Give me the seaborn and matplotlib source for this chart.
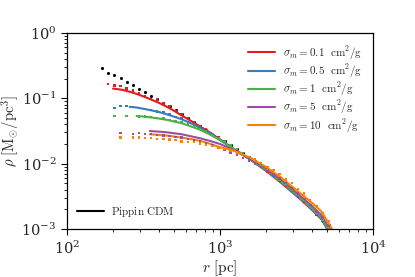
import numpy as np
import pandas as pd
import seaborn as sns
import matplotlib
matplotlib.use("Agg")
import matplotlib.pyplot as plt
from matplotlib.lines import Line2D

nan = np.nan

# radii (pc) of the simulation profile points
r_dots = [170, 186, 204, 224, 245, 269, 295, 324, 355, 389,
          427, 468, 513, 562, 617, 676, 741, 813, 891, 977,
          1072, 1175, 1288, 1413, 1549, 1698, 1862, 2042, 2239, 2455,
          2692, 2951, 3236, 3548, 3890, 4266, 4677, 5129, 5623]

cdm_dots = [0.288, 0.245, 0.224, 0.204, 0.178, 0.162, 0.141, 0.123, 0.110, 0.0977,
            0.0861, 0.0759, 0.0661, 0.0575, 0.0501, 0.0437, 0.0380, 0.0331, 0.0288, 0.0251,
            0.0219, 0.0191, 0.0166, 0.0145, 0.0126, 0.0110, 0.00933, 0.00794, 0.00692, 0.00589,
            0.00501, 0.00417, 0.00347, 0.00288, 0.00234, 0.00191, 0.00151, 0.00115, 0.000832]
s01_dots = [nan, 0.166, 0.158, 0.155, 0.141, 0.132, 0.120, 0.107, 0.0977, 0.0955,
            0.0851, 0.0759, 0.0646, 0.0575, 0.0501, 0.0427, 0.0380, 0.0331, 0.0282, 0.0251,
            0.0214, 0.0186, 0.0162, 0.0141, 0.0120, 0.0105, 0.00891, 0.00759, 0.00646, 0.00550,
            0.00457, 0.00380, 0.00316, 0.00263, 0.00209, 0.00166, 0.00132, 0.000977, nan]
s05_dots = [nan, nan, 0.0708, 0.0759, 0.0759, 0.0741, 0.0708, 0.0692, 0.0661, 0.0631,
            0.0603, 0.0562, 0.0513, 0.0490, 0.0437, 0.0407, 0.0363, 0.0316, 0.0282, 0.0245,
            0.0219, 0.0186, 0.0166, 0.0141, 0.0123, 0.0107, 0.00912, 0.00776, 0.00661, 0.00562,
            0.00468, 0.00389, 0.00324, 0.00269, 0.00214, 0.00170, 0.00135, 0.00100, nan]
s1_dots = [nan, nan, 0.0537, nan, 0.0537, nan, 0.0525, 0.0525, 0.0513, 0.0501,
           0.0490, 0.0468, 0.0447, 0.0427, 0.0398, 0.0372, 0.0339, 0.0309, 0.0275, 0.0245,
           0.0214, 0.0191, 0.0166, 0.0145, 0.0126, 0.0110, 0.00933, 0.00794, 0.00676, 0.00575,
           0.00479, 0.00398, 0.00331, 0.00275, 0.00219, 0.00174, 0.00138, 0.00105, nan]
s5_dots = [nan, nan, nan, 0.0295, nan, 0.0285, 0.0295, 0.0282, 0.0282, 0.0275,
           0.0269, 0.0263, 0.0257, 0.0251, 0.0240, 0.0229, 0.0219, 0.0204, 0.0191, 0.0178,
           0.0162, 0.0148, 0.0135, 0.0123, 0.0112, 0.0100, 0.00891, 0.00776, 0.00676, 0.00589,
           0.00501, 0.00417, 0.00347, 0.00288, 0.00234, 0.00186, 0.00148, 0.00112, nan]
s10_dots = [nan, nan, nan, 0.0251, nan, 0.0251, 0.0251, 0.0245, 0.0245, 0.0240,
            0.0237, 0.0234, 0.0229, 0.0219, 0.0216, 0.0214, 0.0204, 0.0195, 0.0186, 0.0178,
            0.0166, 0.0155, 0.0145, 0.0135, 0.0126, 0.0115, 0.0102, 0.00891, 0.00794, 0.00692,
            0.00575, 0.00501, 0.00407, 0.00347, 0.00275, 0.00224, 0.00174, 0.00132, 0.000933]

# radii (pc) of the fitted profiles
r_line = [200, 230, 257, 285, 316, 348, 400, 450, 500, 560, 630, 740, 870,
          1000, 1120, 1260, 1410, 1580, 2000, 2500, 3300, 4000, 4600, 5000, 5600]

s01_line = [0.141, 0.135, 0.126, 0.117, 0.107, 0.0977, 0.0851, 0.0741, 0.0646, 0.0550,
            0.0468, 0.0372, 0.0295, 0.0234, 0.0195, 0.0162, 0.0138, 0.0115, 0.00776, 0.00513,
            0.00295, 0.00195, 0.00141, 0.00102, 0.000724]
s05_line = [nan, nan, 0.0741, 0.0724, 0.0692, 0.0661, 0.0617, 0.0569, 0.0525, 0.0479,
            0.0427, 0.0355, 0.0288, 0.0234, 0.0195, 0.0162, 0.0138, 0.0116, 0.00794, 0.00525,
            0.00302, 0.00200, 0.00145, 0.00105, 0.000741]
s1_line = [nan, nan, nan, 0.0537, 0.0525, 0.0513, 0.0490, 0.0468, 0.0442, 0.0417,
           0.0380, 0.0331, 0.0275, 0.0229, 0.0193, 0.0162, 0.0138, 0.0117, 0.00813, 0.00537,
           0.00309, 0.00204, 0.00148, 0.00107, 0.000759]
s5_line = [nan, nan, nan, nan, nan, 0.0316, 0.0309, 0.0302, 0.0292, 0.0282,
           0.0266, 0.0245, 0.0221, 0.0200, 0.0178, 0.0155, 0.0135, 0.0117, 0.00851, 0.00575,
           0.00331, 0.00224, 0.00162, 0.00117, 0.000794]
s10_line = [nan, nan, nan, nan, nan, 0.0282, 0.0275, 0.0269, 0.0260, 0.0251,
            0.0240, 0.0224, 0.0200, 0.0178, 0.0168, 0.0155, 0.0138, 0.0123, 0.00891, 0.00617,
            0.00363, 0.00251, 0.00186, 0.00135, 0.000871]

labels = [r"$\sigma_m = 0.1\ \ \mathrm{cm}^2/\mathrm{g}$",
          r"$\sigma_m = 0.5\ \ \mathrm{cm}^2/\mathrm{g}$",
          r"$\sigma_m = 1\ \ \mathrm{cm}^2/\mathrm{g}$",
          r"$\sigma_m = 5\ \ \mathrm{cm}^2/\mathrm{g}$",
          r"$\sigma_m = 10\ \ \mathrm{cm}^2/\mathrm{g}$"]
colors = ["#e41a1c", "#377eb8", "#4daf4a", "#984ea3", "#ff7f00"]

sns.set_style("ticks")
plt.rcParams["mathtext.fontset"] = "cm"
plt.rcParams["font.family"] = ["DejaVu Serif"]
plt.rcParams["axes.formatter.use_mathtext"] = True

dots = pd.DataFrame({
    "r": r_dots * 5,
    "rho": s01_dots + s05_dots + s1_dots + s5_dots + s10_dots,
    "model": np.repeat(labels, len(r_dots)),
}).dropna()
lines = pd.DataFrame({
    "r": r_line * 5,
    "rho": s01_line + s05_line + s1_line + s5_line + s10_line,
    "model": np.repeat(labels, len(r_line)),
}).dropna()
cdm = pd.DataFrame({"r": r_dots, "rho": cdm_dots})

fig = plt.figure(figsize=(4.15, 2.77), dpi=100)
ax = fig.add_axes([0.1614, 0.1733, 0.7373, 0.7076])
ax.set_xscale("log")
ax.set_yscale("log")

pal = dict(zip(labels, colors))
sns.scatterplot(data=cdm, x="r", y="rho", color="black", marker="o", s=5,
                linewidth=0, ax=ax, zorder=1)
sns.lineplot(data=lines, x="r", y="rho", hue="model", palette=pal, lw=1.5,
             errorbar=None, legend=False, ax=ax, zorder=2)
sns.scatterplot(data=dots, x="r", y="rho", hue="model", palette=pal, marker="s",
                s=3, linewidth=0, legend=False, ax=ax, zorder=3)

ax.set_xlim(100, 1e4)
ax.set_ylim(1e-3, 1)
ax.set_xlabel(r"$r\ [\mathrm{pc}]$", fontsize=11, labelpad=1)
ax.set_ylabel(r"$\rho\ [\mathrm{M}_{\odot}/\mathrm{pc}^3]$", fontsize=10.5, labelpad=0)
ax.tick_params(which="major", labelsize=10.5, length=4, width=0.8, color="black")
ax.tick_params(which="minor", length=2.5, width=0.6, color="black")
for sp in ax.spines.values():
    sp.set_color("black")
    sp.set_linewidth(0.9)

handles = [Line2D([], [], color=c, lw=1.5) for c in colors]
leg1 = ax.legend(handles, labels, loc="upper right", frameon=False, fontsize=8,
                 handlelength=2.4, handletextpad=0.7, labelspacing=0.05,
                 borderaxespad=0.6)
ax.add_artist(leg1)
ax.legend([Line2D([], [], color="black", lw=1.5)], [r"$\mathrm{Pippin\ CDM}$"],
          loc="lower left", frameon=False, fontsize=8, handlelength=2.4,
          handletextpad=0.7, borderaxespad=0.5)

fig.savefig("out.png", dpi=100)
